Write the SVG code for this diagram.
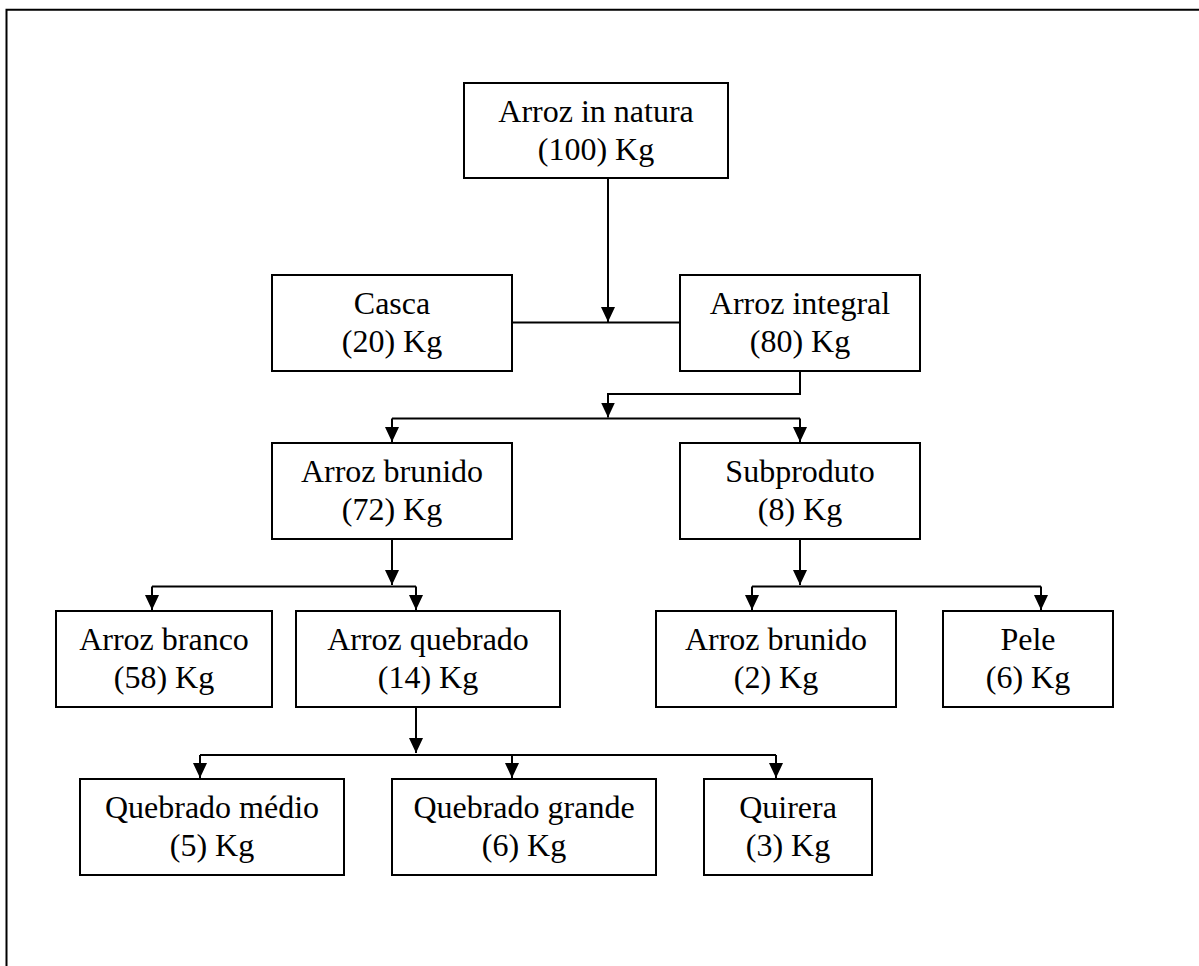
<svg xmlns="http://www.w3.org/2000/svg" width="1199" height="966" viewBox="0 0 1199 966">
  <style>
    .box { fill: #ffffff; stroke: #000000; stroke-width: 2; }
    .lbl { font-family: "Liberation Serif", "Times New Roman", serif; font-size: 32px; fill: #000000; text-anchor: middle; }
    .conn { fill: none; stroke: #000000; stroke-width: 2; }
    .arr { fill: none; stroke: #000000; stroke-width: 2; marker-end: url(#arrow); }
    .frame { fill: none; stroke: #000000; stroke-width: 2; }
  </style>
  <defs>
    <marker id="arrow" markerUnits="userSpaceOnUse" markerWidth="16" markerHeight="16" viewBox="0 0 16 16" refX="15" refY="8" orient="auto">
      <path d="M0,1 L15,8 L0,15 Z" fill="#000000"/>
    </marker>
  </defs>

  <rect x="0" y="0" width="1199" height="966" fill="#ffffff"/>
  <path class="frame" d="M6.5,966 V9.8 H1199"/>

  <g id="connectors">
    <path class="arr" d="M608,178 V322"/>
    <path class="conn" d="M512,322.5 H680"/>
    <path class="arr" d="M800,371 V394 H608 V417.5"/>
    <path class="conn" d="M392,418.5 H800"/>
    <path class="arr" d="M392,418.5 V442"/>
    <path class="arr" d="M800,418.5 V442"/>
    <path class="arr" d="M392,539 V585"/>
    <path class="conn" d="M152,586.5 H416"/>
    <path class="arr" d="M152,586.5 V610"/>
    <path class="arr" d="M416,586.5 V610"/>
    <path class="arr" d="M800,539 V585"/>
    <path class="conn" d="M752,586.5 H1041"/>
    <path class="arr" d="M752,586.5 V610"/>
    <path class="arr" d="M1041,586.5 V610"/>
    <path class="arr" d="M416,707 V753"/>
    <path class="conn" d="M200,755 H776"/>
    <path class="arr" d="M200,755 V778"/>
    <path class="arr" d="M512,755 V778"/>
    <path class="arr" d="M776,755 V778"/>
  </g>

  <g id="node-arroz-in-natura">
    <rect class="box" x="464" y="83" width="264" height="95"/>
    <text class="lbl" x="596" y="122">Arroz in natura</text>
    <text class="lbl" x="596" y="160">(100) Kg</text>
  </g>
  <g id="node-casca">
    <rect class="box" x="272" y="275" width="240" height="96"/>
    <text class="lbl" x="392" y="314">Casca</text>
    <text class="lbl" x="392" y="352">(20) Kg</text>
  </g>
  <g id="node-arroz-integral">
    <rect class="box" x="680" y="275" width="240" height="96"/>
    <text class="lbl" x="800" y="314">Arroz integral</text>
    <text class="lbl" x="800" y="352">(80) Kg</text>
  </g>
  <g id="node-arroz-brunido">
    <rect class="box" x="272" y="443" width="240" height="96"/>
    <text class="lbl" x="392" y="482">Arroz brunido</text>
    <text class="lbl" x="392" y="520">(72) Kg</text>
  </g>
  <g id="node-subproduto">
    <rect class="box" x="680" y="443" width="240" height="96"/>
    <text class="lbl" x="800" y="482">Subproduto</text>
    <text class="lbl" x="800" y="520">(8) Kg</text>
  </g>
  <g id="node-arroz-branco">
    <rect class="box" x="56" y="611" width="216" height="96"/>
    <text class="lbl" x="164" y="650">Arroz branco</text>
    <text class="lbl" x="164" y="688">(58) Kg</text>
  </g>
  <g id="node-arroz-quebrado">
    <rect class="box" x="296" y="611" width="264" height="96"/>
    <text class="lbl" x="428" y="650">Arroz quebrado</text>
    <text class="lbl" x="428" y="688">(14) Kg</text>
  </g>
  <g id="node-arroz-brunido-2">
    <rect class="box" x="656" y="611" width="240" height="96"/>
    <text class="lbl" x="776" y="650">Arroz brunido</text>
    <text class="lbl" x="776" y="688">(2) Kg</text>
  </g>
  <g id="node-pele">
    <rect class="box" x="943" y="611" width="170" height="96"/>
    <text class="lbl" x="1028" y="650">Pele</text>
    <text class="lbl" x="1028" y="688">(6) Kg</text>
  </g>
  <g id="node-quebrado-medio">
    <rect class="box" x="80" y="779" width="264" height="96"/>
    <text class="lbl" x="212" y="818">Quebrado médio</text>
    <text class="lbl" x="212" y="856">(5) Kg</text>
  </g>
  <g id="node-quebrado-grande">
    <rect class="box" x="392" y="779" width="264" height="96"/>
    <text class="lbl" x="524" y="818">Quebrado grande</text>
    <text class="lbl" x="524" y="856">(6) Kg</text>
  </g>
  <g id="node-quirera">
    <rect class="box" x="704" y="779" width="168" height="96"/>
    <text class="lbl" x="788" y="818">Quirera</text>
    <text class="lbl" x="788" y="856">(3) Kg</text>
  </g>
</svg>
